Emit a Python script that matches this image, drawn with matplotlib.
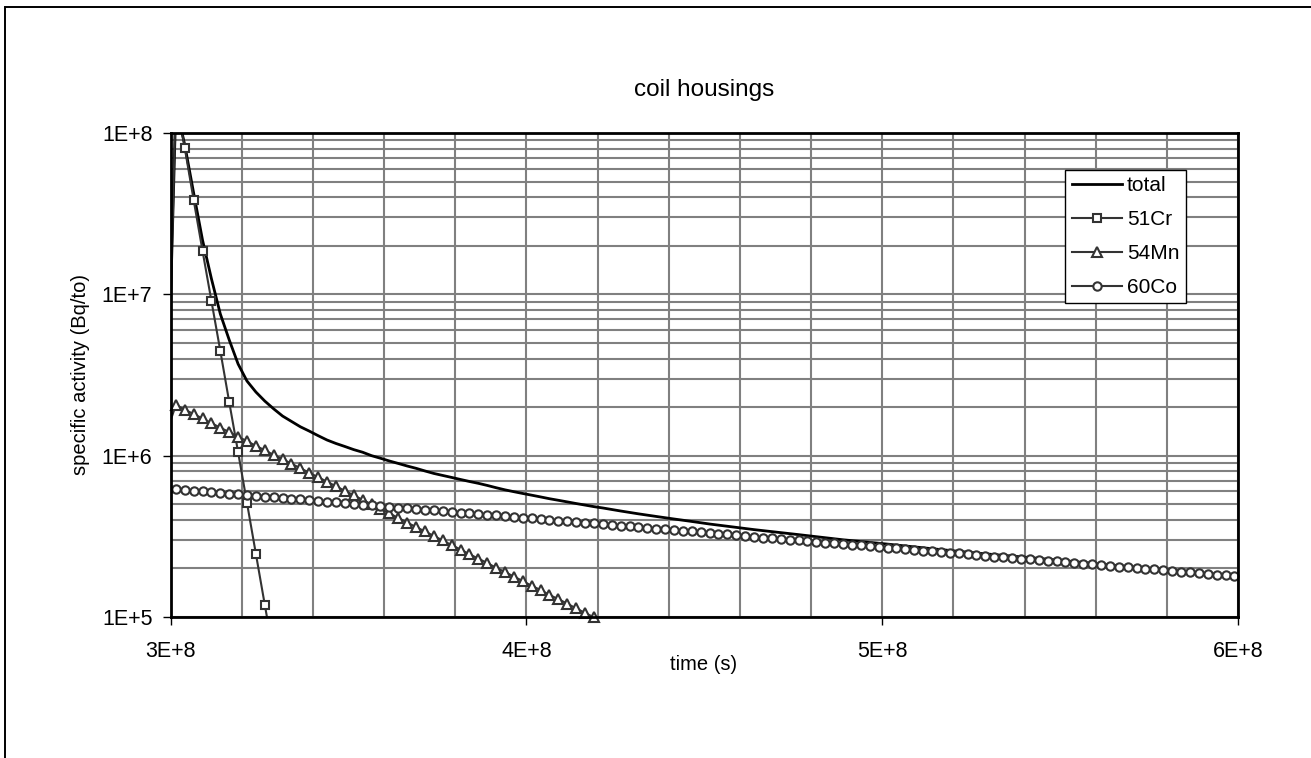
import numpy as np
import matplotlib
matplotlib.use("Agg")
import matplotlib.pyplot as plt
from matplotlib.lines import Line2D
from matplotlib.patches import Rectangle
from matplotlib.ticker import FixedLocator, FuncFormatter, LogLocator, NullFormatter

plt.rcParams['font.family'] = ['Liberation Sans', 'DejaVu Sans']

# ------------------------------------------------------------------------------
# Data (time grid: 2.99E8 s, then one sample every 2.5E6 s)
# ------------------------------------------------------------------------------
t_start = 2.99e8
t_step = 2.5e6

cr51 = [1.2e6, 1.65e8, 8.09e7, 3.85e7, 1.86e7, 9.1e6, 4.46e6, 2.15e6, 1.05e6,
        5.09e5, 2.46e5, 1.19e5, 5.8e4]

mn54 = [1.42e6, 2.06e6, 1.93e6, 1.81e6, 1.70e6, 1.59e6, 1.49e6, 1.40e6, 1.31e6,
        1.23e6, 1.15e6, 1.08e6, 1.01e6, 9.51e5, 8.91e5, 8.36e5, 7.83e5, 7.35e5,
        6.89e5, 6.46e5, 6.05e5, 5.68e5, 5.32e5, 4.99e5, 4.68e5, 4.39e5, 4.11e5,
        3.85e5, 3.61e5, 3.39e5, 3.18e5, 2.98e5, 2.79e5, 2.62e5, 2.45e5, 2.30e5,
        2.16e5, 2.02e5, 1.90e5, 1.78e5, 1.67e5, 1.56e5, 1.47e5, 1.37e5, 1.29e5,
        1.21e5, 1.13e5, 1.06e5, 9.95e4, 9.33e4]

co60 = [5.62e5, 6.19e5, 6.13e5, 6.07e5, 6.00e5, 5.94e5, 5.88e5, 5.82e5, 5.76e5,
        5.70e5, 5.64e5, 5.58e5, 5.52e5, 5.47e5, 5.41e5, 5.35e5, 5.30e5, 5.24e5,
        5.19e5, 5.14e5, 5.08e5, 5.03e5, 4.98e5, 4.92e5, 4.87e5, 4.82e5, 4.77e5,
        4.72e5, 4.67e5, 4.63e5, 4.58e5, 4.53e5, 4.48e5, 4.44e5, 4.39e5, 4.35e5,
        4.30e5, 4.26e5, 4.21e5, 4.17e5, 4.13e5, 4.08e5, 4.04e5, 4.00e5, 3.96e5,
        3.92e5, 3.88e5, 3.84e5, 3.80e5, 3.76e5, 3.72e5, 3.68e5, 3.64e5, 3.60e5,
        3.57e5, 3.53e5, 3.49e5, 3.46e5, 3.42e5, 3.39e5, 3.35e5, 3.31e5, 3.28e5,
        3.25e5, 3.21e5, 3.18e5, 3.15e5, 3.11e5, 3.08e5, 3.05e5, 3.02e5, 2.99e5,
        2.95e5, 2.92e5, 2.89e5, 2.86e5, 2.83e5, 2.80e5, 2.78e5, 2.75e5, 2.72e5,
        2.69e5, 2.66e5, 2.63e5, 2.61e5, 2.58e5, 2.55e5, 2.53e5, 2.50e5, 2.48e5,
        2.45e5, 2.42e5, 2.40e5, 2.37e5, 2.35e5, 2.33e5, 2.30e5, 2.28e5, 2.26e5,
        2.23e5, 2.21e5, 2.19e5, 2.16e5, 2.14e5, 2.12e5, 2.10e5, 2.07e5, 2.05e5,
        2.03e5, 2.01e5, 1.99e5, 1.97e5, 1.95e5, 1.93e5, 1.91e5, 1.89e5, 1.87e5,
        1.85e5, 1.83e5, 1.81e5, 1.79e5, 1.77e5]

# total: sample index on the same grid, and value
total_idx = list(range(50)) + [51, 53, 55, 57, 59, 61, 66, 71, 76, 81, 86, 91,
                               96, 101, 106, 111, 116, 121]
total = [1.40e6, 1.49e8, 8.44e7, 4.25e7, 2.17e7, 1.25e7, 7.56e6, 5.22e6, 3.70e6,
         2.90e6, 2.48e6, 2.18e6, 1.95e6, 1.76e6, 1.63e6, 1.51e6, 1.42e6, 1.33e6,
         1.25e6, 1.19e6, 1.14e6, 1.09e6, 1.05e6, 1.00e6, 9.64e5, 9.27e5, 8.95e5,
         8.63e5, 8.35e5, 8.04e5, 7.76e5, 7.54e5, 7.33e5, 7.12e5, 6.92e5, 6.74e5,
         6.54e5, 6.33e5, 6.14e5, 5.98e5, 5.83e5, 5.69e5, 5.55e5, 5.41e5, 5.29e5,
         5.17e5, 5.05e5, 4.94e5, 4.83e5, 4.74e5, 4.54e5, 4.36e5, 4.20e5, 4.05e5,
         3.91e5, 3.77e5, 3.48e5, 3.24e5, 3.01e5, 2.83e5, 2.65e5, 2.49e5, 2.36e5,
         2.23e5, 2.10e5, 1.99e5, 1.88e5, 1.78e5]

x_ticks = [3e8, 4e8, 5e8, 6e8]
y_ticks = [1e5, 1e6, 1e7, 1e8]

# ------------------------------------------------------------------------------
# Figure
# ------------------------------------------------------------------------------
W, H = 1311, 758
fig = plt.figure(figsize=(W / 100, H / 100), dpi=100)
fig.patches.append(Rectangle((5 / W, -0.05), 1.2, 1 - 7 / H + 0.05,
                             transform=fig.transFigure, fill=False,
                             edgecolor='black', linewidth=1.4))

ax = fig.add_axes([170.5 / W, 1 - 617 / H, (1238 - 170.5) / W, (617 - 133) / H])
ax.set_yscale('log')
ax.set_xlim(3e8, 6e8)
ax.set_ylim(1e5, 1e8)

gray = '#333333'
fs = 15.5


def series_time(n):
    return t_start + t_step * np.arange(n)


t_total = t_start + t_step * np.array(total_idx)
ax.plot(t_total, total, color='black', lw=2.0, zorder=3)

marker_style = dict(markerfacecolor='white', markeredgecolor=gray,
                    markeredgewidth=1.5, linestyle='none', zorder=5)
for vals, mk, ms in [(cr51, 's', 6.0), (mn54, '^', 6.5), (co60, 'o', 6.0)]:
    t = series_time(len(vals))
    v = np.array(vals)
    ax.plot(t, v, color=gray, lw=1.5, zorder=4)
    inside = (t >= 3e8) & (t <= 6e8) & (v >= 0.97e5) & (v <= 1e8)
    ax.plot(t[inside], v[inside], marker=mk, markersize=ms, clip_on=False,
            **marker_style)

# grid and ticks
ax.xaxis.set_major_locator(FixedLocator(x_ticks))
ax.xaxis.set_minor_locator(FixedLocator(np.arange(3e8, 6.01e8, 2e7)))
ax.yaxis.set_major_locator(FixedLocator(y_ticks))
ax.yaxis.set_minor_locator(LogLocator(base=10, subs=np.arange(2, 10)))
ax.yaxis.set_minor_formatter(NullFormatter())
ax.xaxis.set_major_formatter(FuncFormatter(lambda v, p: f"{v / 1e8:.0f}E+8"))
ax.yaxis.set_major_formatter(FuncFormatter(lambda v, p: f"1E+{int(round(np.log10(v)))}"))

ax.grid(which='both', color='#808080', lw=1.5)
ax.set_axisbelow(True)
ax.tick_params(which='minor', length=0)
ax.tick_params(axis='y', which='major', direction='out', length=6, width=1,
               pad=7, labelsize=fs)
ax.tick_params(axis='x', which='major', direction='out', length=6, width=1,
               pad=11, labelsize=fs)
for s in ax.spines.values():
    s.set_linewidth(2)
    s.set_color('black')
    s.set_zorder(6)

fig.text(704 / W, 1 - 90 / H, "coil housings", ha='center', va='center', fontsize=17.5)
fig.text(704 / W, 1 - 664 / H, "time (s)", ha='center', va='center', fontsize=14.5)
fig.text(80 / W, 1 - 375 / H, "specific activity (Bq/to)", ha='center',
         va='center', rotation=90, fontsize=14.5)

handles = [
    Line2D([], [], color='black', lw=2.0),
    Line2D([], [], color=gray, lw=1.5, marker='s', markersize=6, markerfacecolor='white',
           markeredgecolor=gray, markeredgewidth=1.5),
    Line2D([], [], color=gray, lw=1.5, marker='^', markersize=6.5, markerfacecolor='white',
           markeredgecolor=gray, markeredgewidth=1.5),
    Line2D([], [], color=gray, lw=1.5, marker='o', markersize=6, markerfacecolor='white',
           markeredgecolor=gray, markeredgewidth=1.5),
]
leg = ax.legend(handles, ['total', '51Cr', '54Mn', '60Co'], loc='upper right',
                bbox_to_anchor=(0.951, 0.924), borderaxespad=0, fontsize=15,
                frameon=True, fancybox=False, edgecolor='black', framealpha=1,
                handlelength=2.4, handletextpad=0.25, labelspacing=0.72,
                borderpad=0.3, numpoints=1)
leg.get_frame().set_linewidth(1.0)
leg.set_zorder(10)

fig.savefig('out.png', dpi=100)
